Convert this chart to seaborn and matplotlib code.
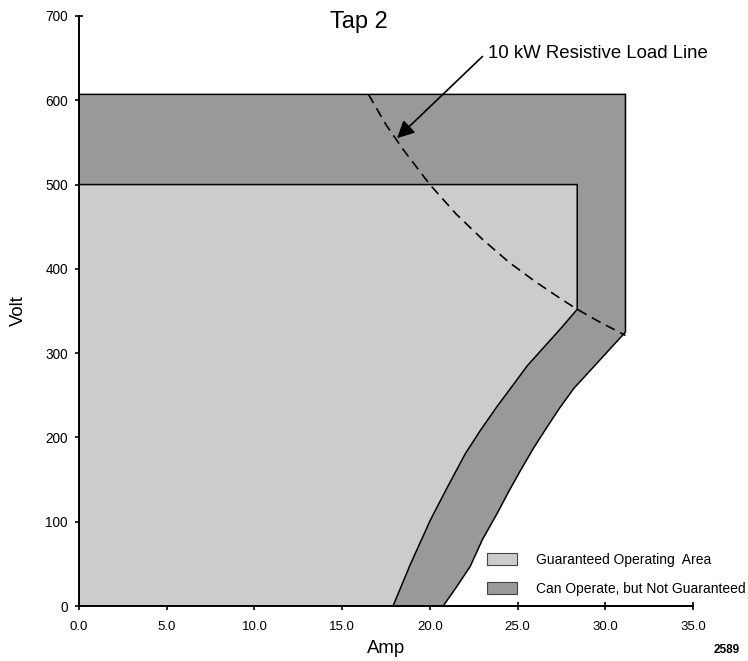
import matplotlib
matplotlib.use("Agg")
import matplotlib.pyplot as plt
import seaborn as sns
from matplotlib.patches import Patch

# outer boundary: can operate, but not guaranteed
outer_amp = [0, 0, 31.15, 31.15, 28.2, 27.4, 26.7, 25.9, 25.17, 24.5, 23.84, 23.0, 22.3, 21.5, 20.76]
outer_volt = [0, 607, 607, 325, 258, 235, 213, 187, 161, 136, 110, 79, 47, 22, 0]

# guaranteed operating area
inner_amp = [0, 0, 28.4, 28.4, 27.45, 26.5, 25.55, 24.7, 23.84, 22.9, 22.03, 21.0, 20.03, 18.9, 17.9]
inner_volt = [0, 500, 500, 352, 329, 307, 285, 261, 237, 209, 181, 141, 102, 50, 0]

# 10 kW resistive load line (dashed curve)
load_amp = [16.5, 17.5, 18.5, 20.0, 21.5, 23.0, 24.5, 26.0, 27.5, 28.4, 29.5, 31.15]
load_volt = [607, 571, 541, 500, 465, 435, 408, 385, 364, 352, 339, 321]

xticks = [0, 5, 10, 15, 20, 25, 30, 35]
xtick_labels = ["0.0", "5.0", "10.0", "15.0", "20.0", "25.0", "30.0", "35.0"]
yticks = [0, 100, 200, 300, 400, 500, 600, 700]

legend_labels = ["Guaranteed Operating  Area", "Can Operate, but Not Guaranteed"]
light_grey = "#cccccc"
dark_grey = "#999999"

sns.set_theme(style="ticks")
plt.rcParams["font.family"] = ["Liberation Sans", "DejaVu Sans"]
plt.rcParams["text.color"] = "black"
plt.rcParams["axes.labelcolor"] = "black"
plt.rcParams["xtick.color"] = "black"
plt.rcParams["ytick.color"] = "black"

fig, ax = plt.subplots(figsize=(7.48, 6.61), dpi=100)
fig.subplots_adjust(left=0.1056, right=0.9265, bottom=0.0832, top=0.9758)

ax.fill(outer_amp, outer_volt, fc=dark_grey, ec="black", lw=1.1, zorder=1)
ax.fill(inner_amp, inner_volt, fc=light_grey, ec="black", lw=1.1, zorder=2)
sns.lineplot(x=load_amp, y=load_volt, sort=False, color="black", lw=1.2,
             linestyle=(0, (6, 3.6)), ax=ax, zorder=3)

ax.set_xlim(0, 35)
ax.set_ylim(0, 700)
ax.set_xticks(xticks)
ax.set_xticklabels(xtick_labels)
ax.set_yticks(yticks)
ax.tick_params(direction="inout", length=6, width=1.2, color="black")
ax.tick_params(axis="x", labelsize=9.5, pad=8)
ax.tick_params(axis="y", labelsize=9.8, pad=5)
sns.despine(ax=ax)
for s in ["left", "bottom"]:
    ax.spines[s].set_linewidth(1.4)
    ax.spines[s].set_color("black")

ax.set_xlabel("Amp", fontsize=13.4, labelpad=5)
ax.set_ylabel("Volt", fontsize=13.4, labelpad=13)

ax.text(15.98, 685.3, "Tap 2", ha="center", va="baseline", fontsize=17)
ax.text(23.34, 650.5, "10 kW Resistive Load Line", ha="left", va="baseline",
        fontsize=13.4)
ax.annotate("", xy=(18.13, 555), xytext=(23.0, 652),
            arrowprops=dict(arrowstyle="-|>", color="black", lw=1.2,
                            mutation_scale=26, shrinkA=0, shrinkB=0))

handles = [Patch(fc=light_grey, ec="#444444", lw=0.8),
           Patch(fc=dark_grey, ec="#444444", lw=0.8)]
ax.legend(handles, legend_labels, loc="lower left",
          bbox_to_anchor=(0.651, 0.098), bbox_transform=fig.transFigure,
          frameon=False, fontsize=10, handlelength=2.15, handleheight=0.95,
          handletextpad=1.35, labelspacing=1.1, borderpad=0, borderaxespad=0)

fig.text(0.972, 0.017, "2589", fontweight="bold", fontsize=8.5,
         ha="center", va="center")

fig.savefig("out.png", dpi=100)
